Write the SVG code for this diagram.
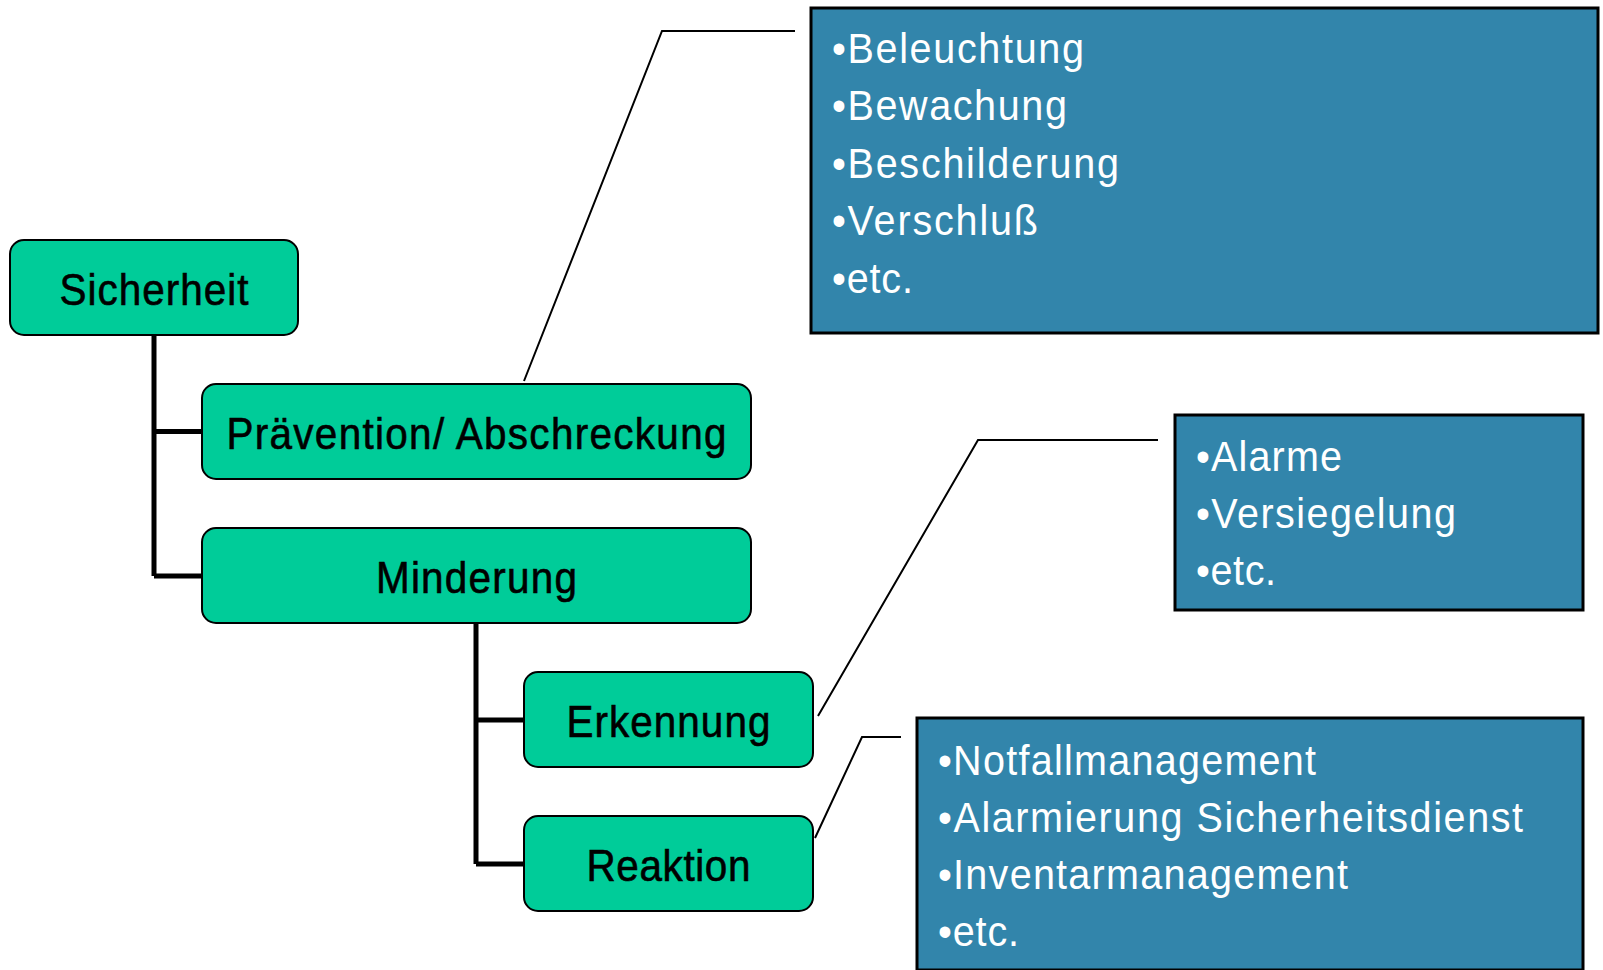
<svg xmlns="http://www.w3.org/2000/svg" width="1603" height="970" viewBox="0 0 1603 970">
<style>
.node rect{fill:#00CC99;stroke:#000;stroke-width:2}
.box rect{fill:#3285AB;stroke:#000;stroke-width:3}
.lbl{font-family:"Liberation Sans",Arial,sans-serif;font-size:44px;fill:#000;stroke:#000;stroke-width:0.6;text-anchor:middle}
.itm{font-family:"Liberation Sans",Arial,sans-serif;font-size:43px;fill:#fff}
.tree{fill:none;stroke:#000;stroke-width:5}
.call{fill:none;stroke:#000;stroke-width:2}
</style>
<rect width="1603" height="970" fill="#fff"/>
<g id="connectors">
<path class="tree" d="M154 335 V576 M154 431.5 H202 M154 576 H202"/>
<path class="tree" d="M476 623 V864 M476 720 H524 M476 864 H524"/>
<path class="call" d="M524 381 L662 31 H795"/>
<path class="call" d="M818 716 L978 440 H1158"/>
<path class="call" d="M815 838 L862 737 H901"/>
</g>
<g id="sicherheit" class="node"><rect x="10" y="240" width="288" height="95" rx="14"/><text class="lbl" transform="scale(0.92 1)" x="167.4" y="305" textLength="205.4" lengthAdjust="spacing">Sicherheit</text></g>
<g id="praevention" class="node"><rect x="202" y="384" width="549" height="95" rx="14"/><text class="lbl" transform="scale(0.92 1)" x="517.9" y="449" textLength="543.5" lengthAdjust="spacing">Prävention/ Abschreckung</text></g>
<g id="minderung" class="node"><rect x="202" y="528" width="549" height="95" rx="14"/><text class="lbl" transform="scale(0.92 1)" x="517.9" y="593" textLength="218.5" lengthAdjust="spacing">Minderung</text></g>
<g id="erkennung" class="node"><rect x="524" y="672" width="289" height="95" rx="14"/><text class="lbl" transform="scale(0.92 1)" x="726.6" y="737" textLength="221.7" lengthAdjust="spacing">Erkennung</text></g>
<g id="reaktion" class="node"><rect x="524" y="816" width="289" height="95" rx="14"/><text class="lbl" transform="scale(0.92 1)" x="726.6" y="881" textLength="178.3" lengthAdjust="spacing">Reaktion</text></g>
<g id="box-praevention" class="box"><rect x="811" y="8" width="787" height="325"/>
<g transform="scale(0.92 1)">
<text class="itm" x="904.3" y="63" textLength="273.9" lengthAdjust="spacing">•Beleuchtung</text>
<text class="itm" x="904.3" y="120.5" textLength="255.4" lengthAdjust="spacing">•Bewachung</text>
<text class="itm" x="904.3" y="178" textLength="312" lengthAdjust="spacing">•Beschilderung</text>
<text class="itm" x="904.3" y="235.5" textLength="223.9" lengthAdjust="spacing">•Verschluß</text>
<text class="itm" x="904.3" y="293" textLength="88" lengthAdjust="spacing">•etc.</text>
</g>
</g>
<g id="box-erkennung" class="box"><rect x="1175" y="415" width="408" height="195"/>
<g transform="scale(0.92 1)">
<text class="itm" x="1300" y="471" textLength="158.7" lengthAdjust="spacing">•Alarme</text>
<text class="itm" x="1300" y="528" textLength="282.6" lengthAdjust="spacing">•Versiegelung</text>
<text class="itm" x="1300" y="585" textLength="87" lengthAdjust="spacing">•etc.</text>
</g>
</g>
<g id="box-reaktion" class="box"><rect x="917" y="718" width="666" height="252"/>
<g transform="scale(0.92 1)">
<text class="itm" x="1019.6" y="775" textLength="410.9" lengthAdjust="spacing">•Notfallmanagement</text>
<text class="itm" x="1019.6" y="832" textLength="635.9" lengthAdjust="spacing">•Alarmierung Sicherheitsdienst</text>
<text class="itm" x="1019.6" y="889" textLength="445.7" lengthAdjust="spacing">•Inventarmanagement</text>
<text class="itm" x="1019.6" y="946" textLength="88" lengthAdjust="spacing">•etc.</text>
</g>
</g>
</svg>
